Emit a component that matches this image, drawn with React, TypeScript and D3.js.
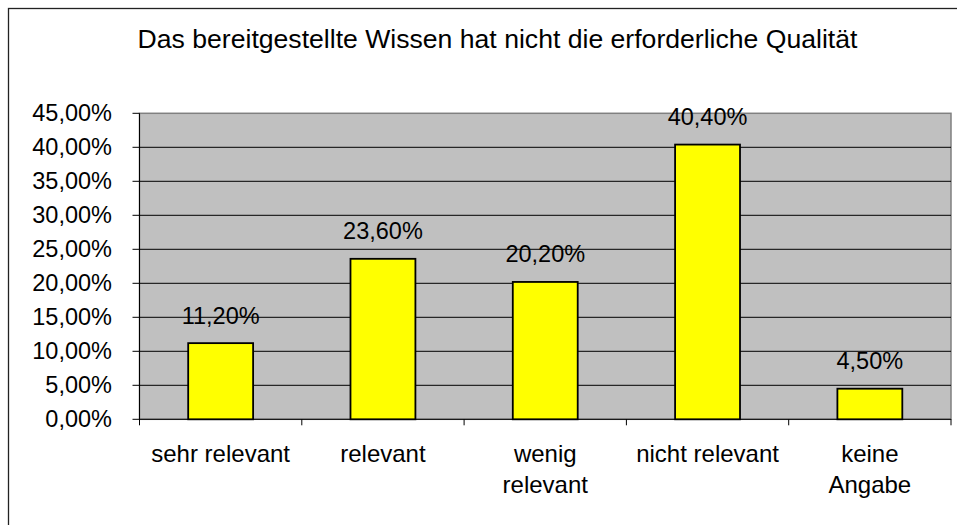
import React from "react";
import * as d3 from "d3";

const title = "Das bereitgestellte Wissen hat nicht die erforderliche Qualität";
const categories = ["sehr relevant", "relevant", "wenig relevant", "nicht relevant", "keine Angabe"];
const categoryLines = [["sehr relevant"], ["relevant"], ["wenig", "relevant"], ["nicht relevant"], ["keine", "Angabe"]];
const values = [11.2, 23.6, 20.2, 40.4, 4.5];
const valueLabels = ["11,20%", "23,60%", "20,20%", "40,40%", "4,50%"];
const yTicks = [0, 5, 10, 15, 20, 25, 30, 35, 40, 45];

const W = 957, H = 525;
const plot = { left: 139.5, right: 951, top: 113.3, bottom: 419.3 };
const font = "Arial, 'Liberation Sans', sans-serif";

export default function App() {
  const x = d3.scaleBand<string>().domain(categories).range([plot.left, plot.right]).paddingInner(0).paddingOuter(0);
  const y = d3.scaleLinear().domain([0, 45]).range([plot.bottom, plot.top]);
  const bw = x.bandwidth() * 0.4;
  const fmt = (v: number) => d3.format(".2f")(v).replace(".", ",") + "%";
  return (
    <svg width={W} height={H} style={{ position: "absolute", left: 0, top: 0, display: "block" }} fontFamily={font}>
      <rect x={0} y={0} width={W} height={H} fill="#fff" />
      <rect x={8.5} y={8.5} width={1000} height={600} fill="none" stroke="#222" strokeWidth={1.3} />
      <text x={497.5} y={48.3} textAnchor="middle" fontSize={26.6} fill="#000">{title}</text>
      <rect x={plot.left} y={plot.top} width={plot.right - plot.left} height={plot.bottom - plot.top} fill="#C0C0C0" stroke="#808080" strokeWidth={1.5} />
      {yTicks.filter(t => t > 0 && t < 45).map(t => (
        <line key={t} x1={plot.left} x2={plot.right} y1={y(t)} y2={y(t)} stroke="#000" strokeWidth={1} />
      ))}
      {yTicks.map(t => (
        <g key={"t" + t}>
          <line x1={plot.left - 7} x2={plot.left} y1={y(t)} y2={y(t)} stroke="#000" strokeWidth={1} />
          <text x={112} y={y(t) + 7.5} textAnchor="end" fontSize={23.5} fill="#000">{fmt(t)}</text>
        </g>
      ))}
      <line x1={plot.left} x2={plot.left} y1={plot.top} y2={plot.bottom + 6} stroke="#000" strokeWidth={1} />
      <line x1={plot.left} x2={plot.right} y1={plot.bottom} y2={plot.bottom} stroke="#000" strokeWidth={1} />
      {categories.map((c, i) => {
        const x1 = (x(c) as number) + x.bandwidth();
        return <line key={"ct" + i} x1={x1} x2={x1} y1={plot.bottom} y2={plot.bottom + 6} stroke="#000" strokeWidth={1} />;
      })}
      {categories.map((c, i) => {
        const cx = (x(c) as number) + x.bandwidth() / 2;
        return (
          <g key={c}>
            <rect x={cx - bw / 2} y={y(values[i])} width={bw} height={plot.bottom - y(values[i])} fill="#FFFF00" stroke="#000" strokeWidth={1.8} />
            <text x={cx} y={y(values[i]) - 19.5} textAnchor="middle" fontSize={23.5} fill="#000">{valueLabels[i]}</text>
            {categoryLines[i].map((l, j) => (
              <text key={j} x={cx} y={461.5 + j * 31} textAnchor="middle" fontSize={24} fill="#000">{l}</text>
            ))}
          </g>
        );
      })}
    </svg>
  );
}
